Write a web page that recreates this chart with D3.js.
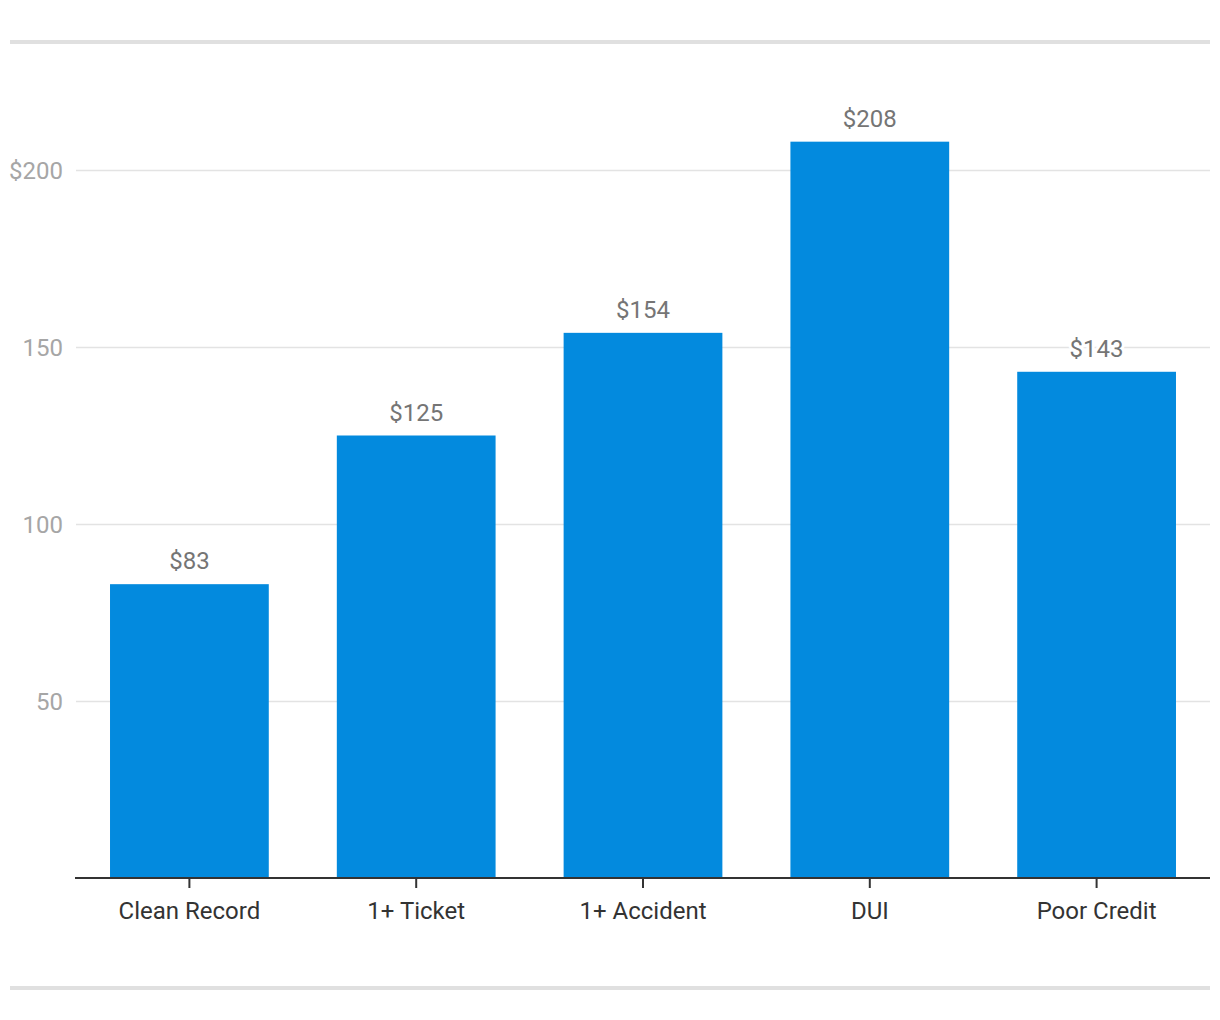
<!DOCTYPE html>
<html>
<head>
<meta charset="utf-8">
<script src="https://cdn.jsdelivr.net/npm/d3@7"></script>
<style>
  html, body { margin: 0; padding: 0; background: #fff; }
  svg { display: block; font-family: Roboto, "Noto Sans", sans-serif; }
</style>
</head>
<body>
<svg id="chart" width="1220" height="1020"></svg>
<script>
const categories = ["Clean Record", "1+ Ticket", "1+ Accident", "DUI", "Poor Credit"];
const values = [83, 125, 154, 208, 143];
const yTicks = [50, 100, 150, 200];
const yTickLabels = ["50", "100", "150", "$200"];

const svg = d3.select("#chart");
const plotLeft = 76, plotRight = 1210, baseline = 878;
const fontSize = 24;

const x = d3.scaleBand().domain(categories).range([plotLeft, plotRight]).paddingInner(0.3).paddingOuter(0.15);
const y = d3.scaleLinear().domain([0, 200]).range([baseline, 170]);

// frame lines
svg.append("rect").attr("x", 10).attr("y", 40).attr("width", 1200).attr("height", 4).attr("fill", "#e0e0e0");
svg.append("rect").attr("x", 10).attr("y", 986).attr("width", 1200).attr("height", 4).attr("fill", "#e0e0e0");

// gridlines
const yAxis = d3.axisLeft(y).tickValues(yTicks).tickSize(-(plotRight - plotLeft)).tickFormat((d, i) => yTickLabels[i]);
const gy = svg.append("g").attr("transform", `translate(${plotLeft},0)`).call(yAxis);
gy.select(".domain").remove();
gy.selectAll(".tick line").attr("stroke", "#e3e3e3").attr("stroke-width", 1.5);
gy.selectAll(".tick text").attr("x", -13).attr("dy", "0.35em").attr("fill", "#a6a6a6")
  .attr("font-size", fontSize).attr("font-family", "Roboto, sans-serif");

// bars
svg.append("g").selectAll("rect").data(values).join("rect")
  .attr("x", (d, i) => x(categories[i]))
  .attr("y", d => y(d))
  .attr("width", x.bandwidth())
  .attr("height", d => y(0) - y(d))
  .attr("fill", "#038ade");

// value labels with white halo
svg.append("g").selectAll("text").data(values).join("text")
  .attr("x", (d, i) => x(categories[i]) + x.bandwidth() / 2)
  .attr("y", d => y(d) - 15)
  .attr("text-anchor", "middle")
  .attr("font-size", fontSize)
  .attr("fill", "#757575")
  .attr("stroke", "#fff").attr("stroke-width", 6).attr("paint-order", "stroke")
  .attr("stroke-linejoin", "round")
  .text(d => "$" + d);

// x axis
const xAxis = d3.axisBottom(x).tickSize(10).tickPadding(14);
const gx = svg.append("g").attr("transform", `translate(0,${baseline})`).call(xAxis);
gx.select(".domain").attr("d", `M${plotLeft - 1},0H${plotRight}`).attr("stroke", "#333").attr("stroke-width", 2);
gx.selectAll(".tick line").attr("stroke", "#333").attr("stroke-width", 2);
gx.selectAll(".tick text").attr("fill", "#333").attr("font-size", fontSize).attr("font-family", "Roboto, sans-serif");
</script>
</body>
</html>
